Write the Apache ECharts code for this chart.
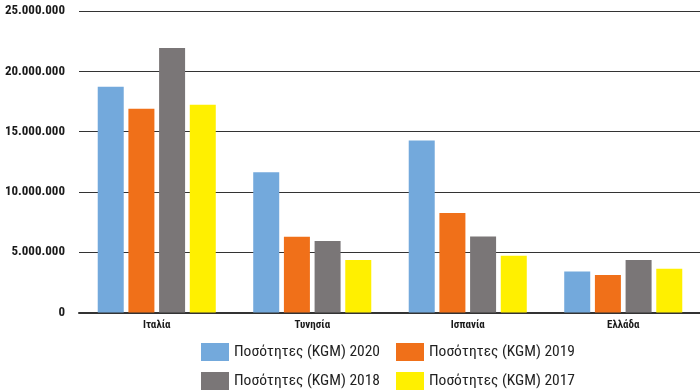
<!DOCTYPE html>
<html><head><meta charset="utf-8">
<script src="https://cdn.jsdelivr.net/npm/echarts@6/dist/echarts.min.js"></script>
<style>html,body{margin:0;padding:0;background:#fff}#c{width:700px;height:392px}</style>
</head><body><div id="c"></div>
<script>
const categories = ['Ιταλία', 'Τυνησία', 'Ισπανία', 'Ελλάδα'];
const seriesNames = ['Ποσότητες (KGM) 2020', 'Ποσότητες (KGM) 2019', 'Ποσότητες (KGM) 2018', 'Ποσότητες (KGM) 2017'];
const values2020 = [18720000, 11630000, 14260000, 3410000];
const values2019 = [16890000, 6290000, 8260000, 3110000];
const values2018 = [21930000, 5930000, 6310000, 4350000];
const values2017 = [17220000, 4350000, 4710000, 3630000];
const colors = ['#73A9DC', '#F07019', '#7A7677', '#FFF000'];
const allValues = [values2020, values2019, values2018, values2017];

const FONT = "'Roboto Condensed', 'DejaVu Sans Condensed', sans-serif";
function fmt(v){ return String(Math.round(v)).replace(/\B(?=(\d{3})+(?!\d))/g, '.'); }

const chart = echarts.init(document.getElementById('c'), null, {renderer:'canvas'});
chart.setOption({
  animation: false,
  color: colors,
  grid: {left: 79, top: 11, width: 622, bottom: 392 - 312.5, containLabel: false, outerBoundsMode: 'none'},
  legend: [
    {data: [seriesNames[0], seriesNames[1]], left: 201, top: 343, padding: 0, itemWidth: 28, itemHeight: 18, itemGap: 16,
     icon: 'rect', textStyle: {fontFamily: FONT, fontSize: 15.5, color: '#222'}},
    {data: [seriesNames[2], seriesNames[3]], left: 201, top: 372, padding: 0, itemWidth: 28, itemHeight: 18, itemGap: 16,
     icon: 'rect', textStyle: {fontFamily: FONT, fontSize: 15.5, color: '#222'}}
  ],
  xAxis: {
    type: 'category', data: categories,
    axisLine: {lineStyle: {color: '#333', width: 2}},
    axisTick: {show: false},
    axisLabel: {fontFamily: FONT, fontWeight: 'bold', fontSize: 11, color: '#1a1a1a', margin: 7}
  },
  yAxis: {
    type: 'value', min: 0, max: 25000000, interval: 5000000,
    axisLine: {show: false}, axisTick: {show: false},
    splitLine: {lineStyle: {color: '#333', width: 1.2}},
    axisLabel: {fontFamily: FONT, fontWeight: 'bold', fontSize: 13, color: '#1a1a1a', margin: 14, formatter: fmt}
  },
  series: seriesNames.map((n, i) => ({
    name: n, type: 'bar', data: allValues[i], barWidth: 26, barGap: '18%', barCategoryGap: '22%'
  }))
});
</script></body></html>
